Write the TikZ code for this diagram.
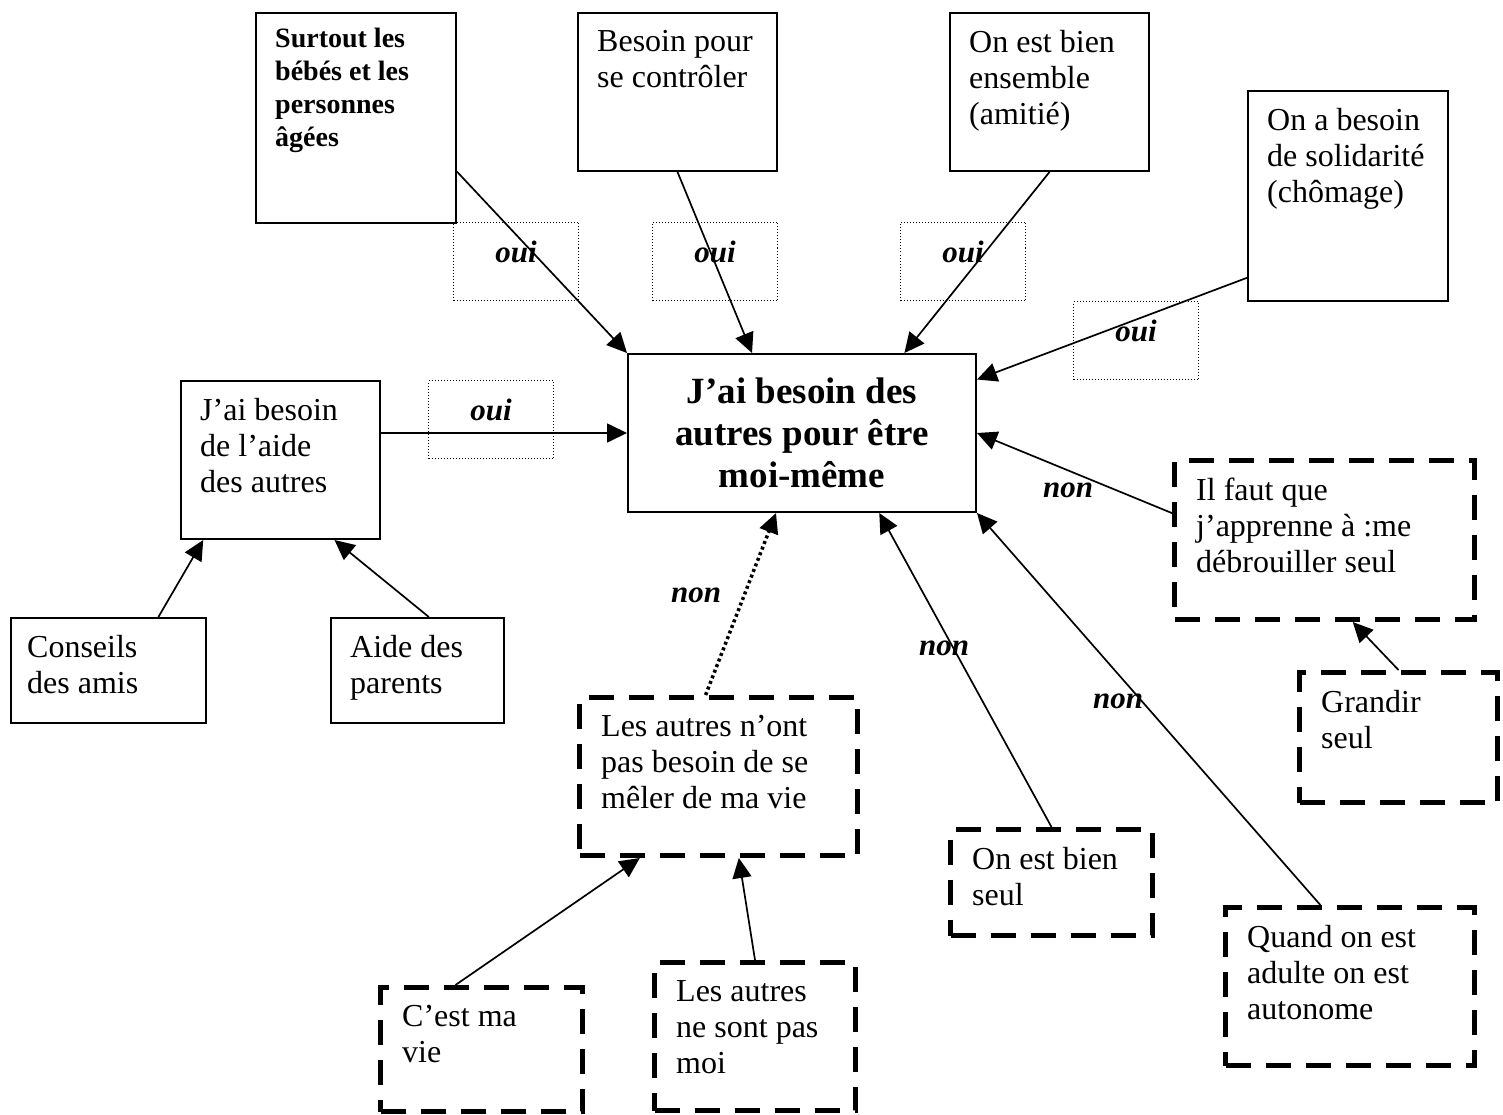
\documentclass[tikz,border=0pt]{standalone}
\usepackage{fontspec}
\setmainfont{Liberation Serif}
\usetikzlibrary{arrows.meta}

\tikzset{
	box/.style={draw, line width=2pt, anchor=north west, inner sep=0pt},
	dbox/.style={draw, line width=5pt, dash pattern=on 25pt off 15pt, anchor=north west, inner sep=0pt},
	rep/.style={font=\fontsize{31}{36}\selectfont\bfseries\itshape},
	ouibox/.style={draw, line width=1pt, dash pattern=on 1pt off 2pt, anchor=north west, minimum width=125pt, minimum height=78pt, label={[rep, anchor=north, inner sep=0pt, yshift=-19pt]north:oui}},
	txt/.style={anchor=north west, align=left, inner sep=0pt, font=\fontsize{32}{36}\selectfont, xshift=20pt, yshift=-18pt},
	dtxt/.style={anchor=north west, align=left, inner sep=0pt, font=\fontsize{32}{36}\selectfont, xshift=24pt, yshift=-20pt},
	btxt/.style={anchor=north west, align=left, inner sep=0pt, font=\fontsize{28}{33}\selectfont\bfseries, xshift=20pt, yshift=-16pt},
	link/.style={line width=1.7pt, ->},
	dotlink/.style={line width=3.5pt, dash pattern=on 3pt off 3pt, ->}
}

\begin{document}
\begin{tikzpicture}[x=1pt, y=-1pt, >={Triangle[length=20pt, width=19pt]}]
	\useasboundingbox (0,0) rectangle (1503,1115);

	\node (surtout) at (255,12) [box, minimum width=200pt, minimum height=210pt, label={[btxt]north west:{Surtout les\\bébés et les\\personnes\\âgées}}] {};
	\node (controle) at (577,12) [box, minimum width=199pt, minimum height=158pt, label={[txt]north west:{Besoin pour\\se contrôler}}] {};
	\node (ensemble) at (949,12) [box, minimum width=199pt, minimum height=158pt, label={[txt]north west:{On est bien\\ensemble\\(amitié)}}] {};
	\node (solidarite) at (1247,90) [box, minimum width=200pt, minimum height=210pt, label={[txt]north west:{On a besoin\\de solidarité\\(chômage)}}] {};

	\node (central) at (627,353) [box, minimum width=348pt, minimum height=158pt, align=center, font=\fontsize{37}{42}\selectfont\bfseries] {J’ai besoin des\\autres pour être\\moi-même};

	\node (aide) at (180,380) [box, minimum width=199pt, minimum height=158pt, label={[txt]north west:{J’ai besoin\\de l’aide\\des autres}}] {};
	\node (conseils) at (10,617) [box, minimum width=195pt, minimum height=105pt, label={[txt, xshift=-3pt]north west:{Conseils\\des amis}}] {};
	\node (parents) at (330,617) [box, minimum width=173pt, minimum height=105pt, label={[txt]north west:{Aide des\\parents}}] {};

	\node (meler) at (577,695) [dbox, minimum width=278pt, minimum height=158pt, label={[dtxt]north west:{Les autres n’ont\\pas besoin de se\\mêler de ma vie}}] {};
	\node (mavie) at (378,985) [dbox, minimum width=202pt, minimum height=124pt, label={[dtxt]north west:{C’est ma\\vie}}] {};
	\node (pasmoi) at (652,960) [dbox, minimum width=201pt, minimum height=148pt, label={[dtxt]north west:{Les autres\\ne sont pas\\moi}}] {};
	\node (seul) at (948,827) [dbox, minimum width=202pt, minimum height=106pt, label={[dtxt]north west:{On est bien\\seul}}] {};
	\node (adulte) at (1223,905) [dbox, minimum width=249pt, minimum height=158pt, label={[dtxt]north west:{Quand on est\\adulte on est\\autonome}}] {};
	\node (debrouiller) at (1172,458) [dbox, minimum width=300pt, minimum height=159pt, label={[dtxt]north west:{Il faut que\\j’apprenne à :me\\débrouiller seul}}] {};
	\node (grandir) at (1297,670) [dbox, minimum width=198pt, minimum height=130pt, label={[dtxt]north west:{Grandir\\seul}}] {};

	\node (oui1) at (453,222) [ouibox] {};
	\node (oui2) at (652,222) [ouibox] {};
	\node (oui3) at (900,222) [ouibox] {};
	\node (oui4) at (1073,301) [ouibox] {};
	\node (oui5) at (428,380) [ouibox] {};

	\node (non1) at (696,602) [rep, anchor=base] {non};
	\node (non2) at (1068,497) [rep, anchor=base] {non};
	\node (non3) at (944,655) [rep, anchor=base] {non};
	\node (non4) at (1118,708) [rep, anchor=base] {non};

	\draw[link] (surtout.-28) to (central.north west);
	\draw[link] (controle.south) to (central.122);
	\draw[link] (ensemble.south) to (central.38);
	\draw[link] (solidarite.219) to (central.17);
	\draw[link] (aide.15) to (central.west);
	\draw[link] (conseils.47) to (aide.226);
	\draw[link] (parents.78) to (aide.-56);

	\draw[dotlink] (meler.99) to (central.-108);
	\draw[link] (seul.north) to (central.-46);
	\draw[link] (adulte.110) to (central.south east);
	\draw[link] (debrouiller.170) to (central.east);
	\draw[link] (grandir.north) to (debrouiller.-71);
	\draw[link] (mavie.112) to (meler.226);
	\draw[link] (pasmoi.north) to (meler.-76);
\end{tikzpicture}
\end{document}
